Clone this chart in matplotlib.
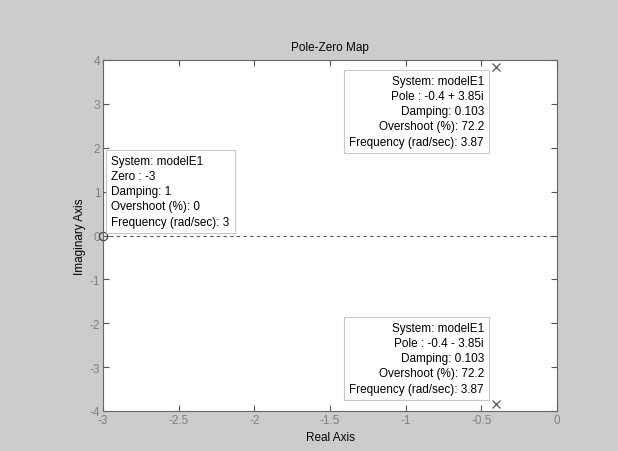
import numpy as np
import matplotlib.pyplot as plt

plt.rcParams['font.family'] = ['Liberation Sans', 'DejaVu Sans']
plt.rcParams['axes.unicode_minus'] = False

# pole / zero data
pole_re = [-0.4, -0.4]
pole_im = [3.85, -3.85]
zero_re = [-3]
zero_im = [0]

xticks = [-3, -2.5, -2, -1.5, -1, -0.5, 0]
yticks = [-4, -3, -2, -1, 0, 1, 2, 3, 4]

pole_text_up = "System: modelE1\nPole : -0.4 + 3.85i\nDamping: 0.103\nOvershoot (%): 72.2\nFrequency (rad/sec): 3.87"
pole_text_dn = "System: modelE1\nPole : -0.4 - 3.85i\nDamping: 0.103\nOvershoot (%): 72.2\nFrequency (rad/sec): 3.87"
zero_text = "System: modelE1\nZero : -3\nDamping: 1\nOvershoot (%): 0\nFrequency (rad/sec): 3"

bg = '#cccccc'
fig = plt.figure(figsize=(6.18, 4.52), dpi=100, facecolor=bg)
ax = fig.add_axes([103/618, 1-412/452, 454/618, 351/452])
ax.set_facecolor('white')

ax.axhline(0, color='#555555', lw=0.8, ls=(0, (3, 3)))
ax.plot(pole_re, pole_im, 'x', color='#555555', ms=6, mew=0.9, clip_on=False)
ax.plot(zero_re, zero_im, 'o', mfc='none', mec='#444444', ms=6, mew=0.9, clip_on=False)

ax.set_xlim(-3, 0)
ax.set_ylim(-4, 4)
ax.set_xticks(xticks)
ax.set_xticklabels(['-3', '-2.5', '-2', '-1.5', '-1', '-0.5', '0'])
ax.set_yticks(yticks)
ax.tick_params(direction='in', length=4, width=0.8, color='#555555',
               labelcolor='#808080', labelsize=8.5, top=True, right=True, pad=2)
for s in ax.spines.values():
    s.set_color('#666666')
    s.set_linewidth(0.8)

ax.set_title('Pole-Zero Map', fontsize=8.5, pad=7)
ax.set_xlabel('Real Axis', fontsize=8.5, labelpad=4)
ax.set_ylabel('Imaginary Axis', fontsize=8.5, labelpad=3)

box = dict(boxstyle='square,pad=0.45', fc='white', ec='#c8c8c8', lw=0.8)
ax.text((484-103)/454, (412-76)/351, pole_text_up, transform=ax.transAxes,
        ha='right', va='top', fontsize=8.5, linespacing=1.35, bbox=box)
ax.text((484-103)/454, (412-323)/351, pole_text_dn, transform=ax.transAxes,
        ha='right', va='top', fontsize=8.5, linespacing=1.35, bbox=box)
ax.text((111-103)/454, (412-156)/351, zero_text, transform=ax.transAxes,
        ha='left', va='top', fontsize=8.5, linespacing=1.35, bbox=box)

fig.savefig('out.png', dpi=100, facecolor=bg)
